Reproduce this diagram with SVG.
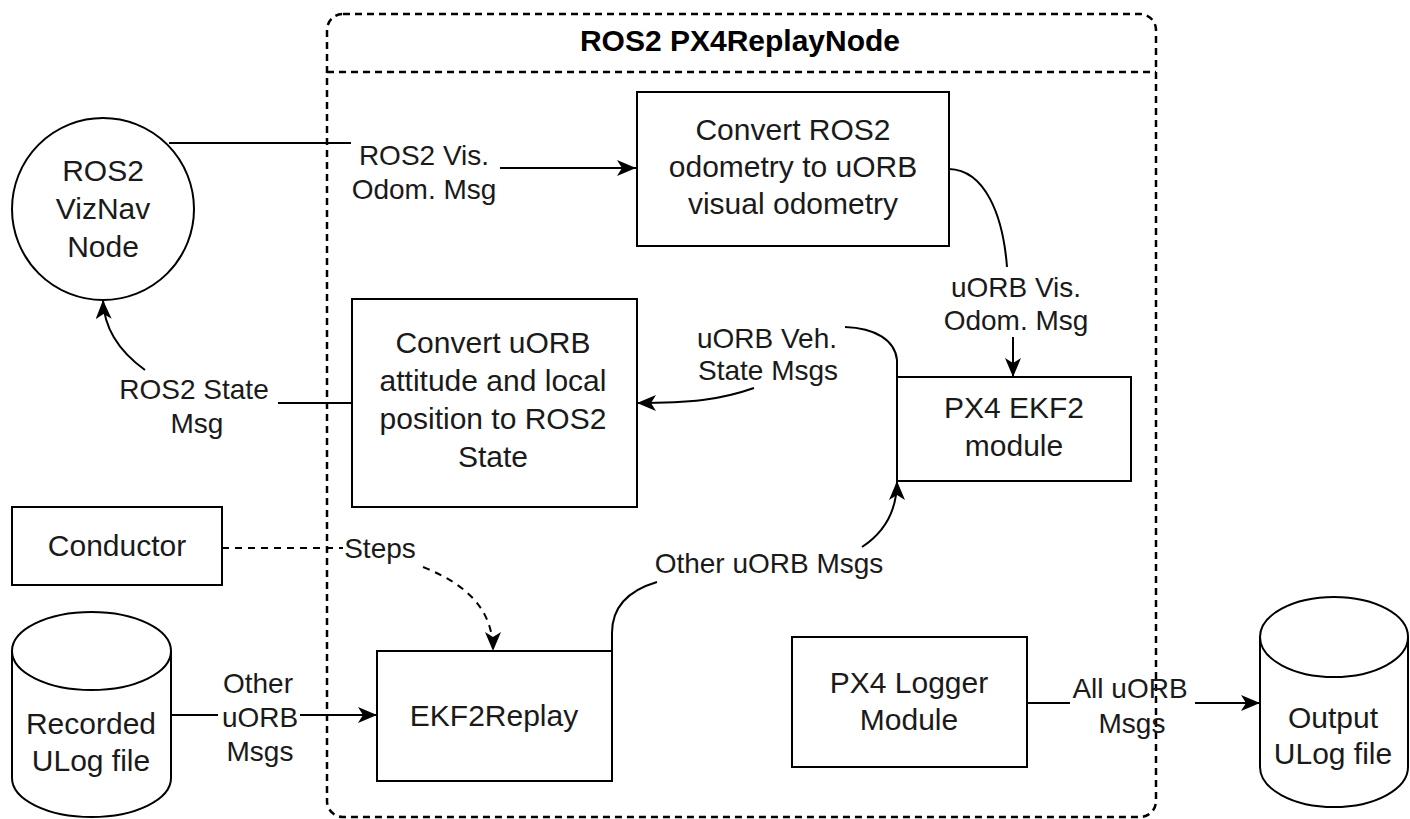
<svg xmlns="http://www.w3.org/2000/svg" width="1410" height="819" viewBox="0 0 1410 819">
<style>
.box{fill:#fff;stroke:#000;stroke-width:2}
.nt{font-family:"Liberation Sans",Arial,sans-serif;font-size:30px;fill:#1a1a1a;text-anchor:middle}
.lt{font-family:"Liberation Sans",Arial,sans-serif;font-size:28px;fill:#1a1a1a;text-anchor:middle}
.title{font-family:"Liberation Sans",Arial,sans-serif;font-size:30px;font-weight:bold;fill:#000;text-anchor:middle}
.e{fill:none;stroke:#000;stroke-width:2}
.ea{fill:none;stroke:#000;stroke-width:2;marker-end:url(#arr)}
.ed{fill:none;stroke:#000;stroke-width:2;stroke-dasharray:7 6}
.eda{fill:none;stroke:#000;stroke-width:2;stroke-dasharray:7 6;marker-end:url(#arr)}
.cont{fill:none;stroke:#000;stroke-width:2.5;stroke-dasharray:7 5}
</style>
<defs>
<marker id="arr" markerWidth="20" markerHeight="16" refX="19" refY="8" orient="auto" markerUnits="userSpaceOnUse">
<path d="M0,0 L19,8 L0,16 L5,8 Z" fill="#000"/>
</marker>
</defs>
<rect width="1410" height="819" fill="#fff"/>

<g id="container">
<rect class="cont" x="327" y="14" width="829" height="803" rx="16"/>
<line class="cont" x1="327" y1="72" x2="1156" y2="72"/>
<text class="title" x="740" y="51">ROS2 PX4ReplayNode</text>
</g>

<g id="connectors">
<path class="e" d="M169,143 H351"/>
<path class="ea" d="M500,168 H636"/>
<path class="e" d="M949,169 C985,170 1003,215 1007,267"/>
<path class="ea" d="M1013,337 V377"/>
<path class="e" d="M897,377 V360 C895,340 875,328 845,327"/>
<path class="ea" d="M754,388 C720,400 690,403 637,403"/>
<path class="e" d="M352,403 H278"/>
<path class="ea" d="M145,370 C120,352 104,330 103,300"/>
<path class="ed" d="M222,548 H343"/>
<path class="eda" d="M423,567 C468,585 493,610 493,651"/>
<path class="e" d="M171,715 H218"/>
<path class="ea" d="M300,715 H377"/>
<path class="e" d="M612,651 V633 C612,605 630,590 657,582"/>
<path class="ea" d="M862,547 C885,532 897,510 897,481"/>
<path class="e" d="M1027,703 H1070"/>
<path class="ea" d="M1195,703 H1260"/>
<text class="lt" x="424" y="165">ROS2 Vis.</text>
<text class="lt" x="424" y="199">Odom. Msg</text>
<text class="lt" x="1016" y="297">uORB Vis.</text>
<text class="lt" x="1016" y="330">Odom. Msg</text>
<text class="lt" x="767" y="348">uORB Veh.</text>
<text class="lt" x="768" y="380">State Msgs</text>
<text class="lt" x="194" y="399">ROS2 State</text>
<text class="lt" x="197" y="433">Msg</text>
<text class="lt" x="380" y="558">Steps</text>
<text class="lt" x="769" y="573">Other uORB Msgs</text>
<text class="lt" x="258" y="693">Other</text>
<text class="lt" x="260" y="727">uORB</text>
<text class="lt" x="260" y="761">Msgs</text>
<text class="lt" x="1130" y="698">All uORB</text>
<text class="lt" x="1132" y="733">Msgs</text>
</g>

<g id="viznav">
<circle class="box" cx="103" cy="209" r="91"/>
<text class="nt" x="103" y="181">ROS2</text>
<text class="nt" x="103" y="219">VizNav</text>
<text class="nt" x="103" y="257">Node</text>
</g>

<g id="convert-ros2">
<rect class="box" x="637" y="92" width="312" height="154"/>
<text class="nt" x="793" y="140">Convert ROS2</text>
<text class="nt" x="793" y="177">odometry to uORB</text>
<text class="nt" x="793" y="214">visual odometry</text>
</g>

<g id="convert-uorb">
<rect class="box" x="352" y="299" width="285" height="208"/>
<text class="nt" x="493" y="353">Convert uORB</text>
<text class="nt" x="493" y="391">attitude and local</text>
<text class="nt" x="493" y="429">position to ROS2</text>
<text class="nt" x="493" y="467">State</text>
</g>

<g id="ekf2">
<rect class="box" x="897" y="377" width="234" height="104"/>
<text class="nt" x="1014" y="418">PX4 EKF2</text>
<text class="nt" x="1014" y="456">module</text>
</g>

<g id="conductor">
<rect class="box" x="12" y="507" width="210" height="78"/>
<text class="nt" x="117" y="556">Conductor</text>
</g>

<g id="ekf2replay">
<rect class="box" x="377" y="651" width="235" height="130"/>
<text class="nt" x="494" y="726">EKF2Replay</text>
</g>

<g id="logger">
<rect class="box" x="792" y="637" width="235" height="130"/>
<text class="nt" x="909" y="693">PX4 Logger</text>
<text class="nt" x="909" y="730">Module</text>
</g>

<g id="recorded-ulog">
<path class="box" d="M12,651 A79.5,39 0 0 1 171,651 V778 A79.5,39 0 0 1 12,778 Z"/>
<path class="e" d="M12,651 A79.5,39 0 0 0 171,651"/>
<text class="nt" x="91" y="734">Recorded</text>
<text class="nt" x="91" y="771">ULog file</text>
</g>

<g id="output-ulog">
<path class="box" d="M1260,637 A74,40 0 0 1 1408,637 V767 A74,40 0 0 1 1260,767 Z"/>
<path class="e" d="M1260,637 A74,40 0 0 0 1408,637"/>
<text class="nt" x="1333" y="728">Output</text>
<text class="nt" x="1333" y="764">ULog file</text>
</g>
</svg>
